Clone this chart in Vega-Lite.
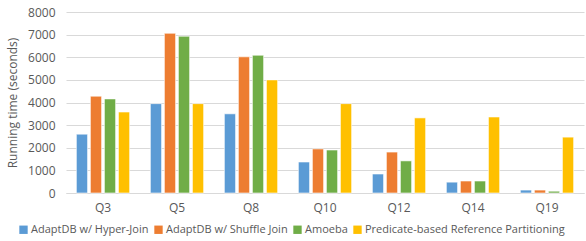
{
  "$schema": "https://vega.github.io/schema/vega-lite/v6.json",
  "width": 518,
  "height": 181,
  "autosize": {"type": "none"},
  "padding": {"left": 66, "top": 12, "right": 2, "bottom": 48},
  "background": "white",
  "config": {
    "view": {"stroke": null},
    "font": "Open Sans",
    "axis": {"labelColor": "#595959", "titleColor": "#595959", "labelFont": "Open Sans", "titleFont": "Open Sans"},
    "legend": {"labelColor": "#595959", "labelFont": "Open Sans"}
  },
  "data": {
    "values": [
      {"q": "Q3", "s": "AdaptDB w/ Hyper-Join", "v": 2600},
      {"q": "Q3", "s": "AdaptDB w/ Shuffle Join", "v": 4280},
      {"q": "Q3", "s": "Amoeba", "v": 4160},
      {"q": "Q3", "s": "Predicate-based Reference Partitioning", "v": 3580},
      {"q": "Q5", "s": "AdaptDB w/ Hyper-Join", "v": 3950},
      {"q": "Q5", "s": "AdaptDB w/ Shuffle Join", "v": 7060},
      {"q": "Q5", "s": "Amoeba", "v": 6930},
      {"q": "Q5", "s": "Predicate-based Reference Partitioning", "v": 3950},
      {"q": "Q8", "s": "AdaptDB w/ Hyper-Join", "v": 3500},
      {"q": "Q8", "s": "AdaptDB w/ Shuffle Join", "v": 6020},
      {"q": "Q8", "s": "Amoeba", "v": 6090},
      {"q": "Q8", "s": "Predicate-based Reference Partitioning", "v": 5000},
      {"q": "Q10", "s": "AdaptDB w/ Hyper-Join", "v": 1370},
      {"q": "Q10", "s": "AdaptDB w/ Shuffle Join", "v": 1950},
      {"q": "Q10", "s": "Amoeba", "v": 1900},
      {"q": "Q10", "s": "Predicate-based Reference Partitioning", "v": 3950},
      {"q": "Q12", "s": "AdaptDB w/ Hyper-Join", "v": 840},
      {"q": "Q12", "s": "AdaptDB w/ Shuffle Join", "v": 1810},
      {"q": "Q12", "s": "Amoeba", "v": 1420},
      {"q": "Q12", "s": "Predicate-based Reference Partitioning", "v": 3320},
      {"q": "Q14", "s": "AdaptDB w/ Hyper-Join", "v": 480},
      {"q": "Q14", "s": "AdaptDB w/ Shuffle Join", "v": 530},
      {"q": "Q14", "s": "Amoeba", "v": 530},
      {"q": "Q14", "s": "Predicate-based Reference Partitioning", "v": 3360},
      {"q": "Q19", "s": "AdaptDB w/ Hyper-Join", "v": 130},
      {"q": "Q19", "s": "AdaptDB w/ Shuffle Join", "v": 130},
      {"q": "Q19", "s": "Amoeba", "v": 80},
      {"q": "Q19", "s": "Predicate-based Reference Partitioning", "v": 2470}
    ]
  },
  "mark": {"type": "bar", "stroke": "white", "strokeWidth": 0.6},
  "encoding": {
    "x": {
      "field": "q", "type": "nominal", "sort": null,
      "scale": {"paddingInner": 0.28, "paddingOuter": 0.14},
      "axis": {"title": null, "labelAngle": 0, "ticks": false, "domainColor": "#d9d9d9", "labelFontSize": 12, "labelPadding": 9}
    },
    "xOffset": {
      "field": "s", "type": "nominal", "sort": null,
      "scale": {"paddingInner": 0.2}
    },
    "y": {
      "field": "v", "type": "quantitative",
      "scale": {"domain": [0, 8000], "nice": false},
      "axis": {"title": "Running time (seconds)", "values": [0,1000,2000,3000,4000,5000,6000,7000,8000], "labelOverlap": false, "format": "d", "domain": false, "ticks": false, "gridColor": "#d9d9d9", "labelFontSize": 12, "labelPadding": 11, "titleFontSize": 12, "titleFontWeight": "normal", "titlePadding": 8}
    },
    "color": {
      "field": "s", "type": "nominal", "sort": null,
      "scale": {
        "domain": ["AdaptDB w/ Hyper-Join", "AdaptDB w/ Shuffle Join", "Amoeba", "Predicate-based Reference Partitioning"],
        "range": ["#5B9BD5", "#ED7D31", "#70AD47", "#FFC000"]
      },
      "legend": {
        "title": null, "orient": "none", "direction": "horizontal",
        "legendX": -48, "legendY": 212,
        "symbolType": "square", "symbolSize": 70, "symbolStrokeWidth": 0,
        "labelFontSize": 11, "labelLimit": 400, "columnPadding": 4, "labelOffset": 2, "symbolOpacity": 1
      }
    }
  }
}
